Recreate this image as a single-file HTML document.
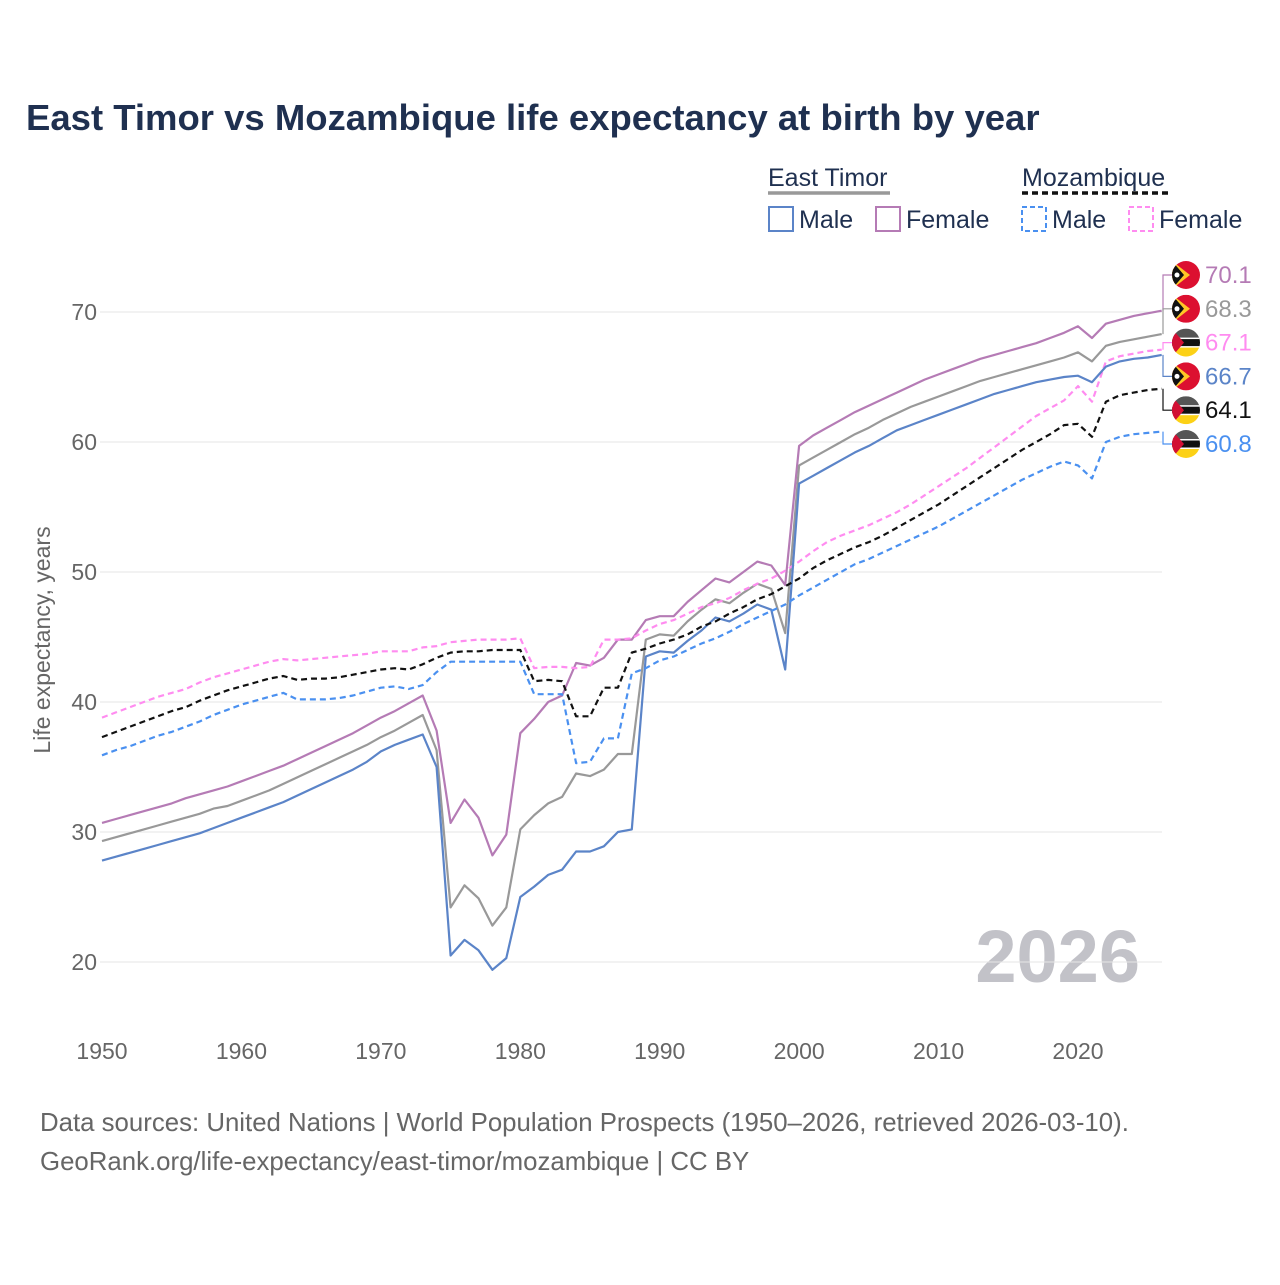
<!DOCTYPE html>
<html><head><meta charset="utf-8"><style>
body{margin:0;background:#fff;font-family:"Liberation Sans",sans-serif}
svg text{font-family:"Liberation Sans",sans-serif}
</style></head><body>
<svg id="c" width="1280" height="1280" viewBox="0 0 1280 1280">
<text x="26" y="130" font-size="36.5" font-weight="bold" fill="#1f3050">East Timor vs Mozambique life expectancy at birth by year</text>
<g>
<text x="768" y="186" font-size="25" fill="#1f3050">East Timor</text>
<line x1="768" y1="193" x2="890" y2="193" stroke="#999" stroke-width="3.5"/>
<text x="1022" y="186" font-size="25" fill="#1f3050">Mozambique</text>
<line x1="1022" y1="193" x2="1170" y2="193" stroke="#111" stroke-width="3.5" stroke-dasharray="6,4"/>
<rect x="769" y="207" width="24" height="24" fill="none" stroke="#5b84c8" stroke-width="2"/>
<text x="799" y="228" font-size="25" fill="#1f3050">Male</text>
<rect x="876" y="207" width="24" height="24" fill="none" stroke="#b57bb5" stroke-width="2"/>
<text x="906" y="228" font-size="25" fill="#1f3050">Female</text>
<rect x="1022" y="207" width="24" height="24" fill="none" stroke="#4a90f0" stroke-width="2" stroke-dasharray="5,3"/>
<text x="1052" y="228" font-size="25" fill="#1f3050">Male</text>
<rect x="1129" y="207" width="24" height="24" fill="none" stroke="#ff8cf0" stroke-width="2" stroke-dasharray="5,3"/>
<text x="1159" y="228" font-size="25" fill="#1f3050">Female</text>
</g>
<text x="1140" y="982" font-size="74" font-weight="bold" fill="#c2c2c8" text-anchor="end">2026</text>
<text transform="translate(50,640) rotate(-90)" font-size="23" fill="#666" text-anchor="middle">Life expectancy, years</text>
<g id="grid"></g><g id="lines"></g><g id="labels"></g>
<text x="40" y="1131" font-size="25.8" fill="#666">Data sources: United Nations | World Population Prospects (1950–2026, retrieved 2026-03-10).</text>
<text x="40" y="1170" font-size="25.8" fill="#666">GeoRank.org/life-expectancy/east-timor/mozambique | CC BY</text>
</svg>
<script>
const startYear = 1950;
const yTicks = [20,30,40,50,60,70];
const xTicks = [1950,1960,1970,1980,1990,2000,2010,2020];
const etMale = [27.8,28.1,28.4,28.7,29.0,29.3,29.6,29.9,30.3,30.7,31.1,31.5,31.9,32.3,32.8,33.3,33.8,34.3,34.8,35.4,36.2,36.7,37.1,37.5,35.0,20.5,21.7,20.9,19.4,20.3,25.0,25.8,26.7,27.1,28.5,28.5,28.9,30.0,30.2,43.5,43.9,43.8,44.7,45.5,46.5,46.2,46.8,47.5,47.1,42.5,56.8,57.4,58.0,58.6,59.2,59.7,60.3,60.9,61.3,61.7,62.1,62.5,62.9,63.3,63.7,64.0,64.3,64.6,64.8,65.0,65.1,64.6,65.8,66.2,66.4,66.5,66.7];
const etFemale = [30.7,31.0,31.3,31.6,31.9,32.2,32.6,32.9,33.2,33.5,33.9,34.3,34.7,35.1,35.6,36.1,36.6,37.1,37.6,38.2,38.8,39.3,39.9,40.5,37.8,30.7,32.5,31.1,28.2,29.8,37.6,38.7,40.0,40.5,43.0,42.8,43.4,44.8,44.8,46.3,46.6,46.6,47.7,48.6,49.5,49.2,50.0,50.8,50.5,49.0,59.7,60.5,61.1,61.7,62.3,62.8,63.3,63.8,64.3,64.8,65.2,65.6,66.0,66.4,66.7,67.0,67.3,67.6,68.0,68.4,68.9,68.0,69.1,69.4,69.7,69.9,70.1];
const etTotal = [29.3,29.6,29.9,30.2,30.5,30.8,31.1,31.4,31.8,32.0,32.4,32.8,33.2,33.7,34.2,34.7,35.2,35.7,36.2,36.7,37.3,37.8,38.4,39.0,36.3,24.2,25.9,24.9,22.8,24.2,30.2,31.3,32.2,32.7,34.5,34.3,34.8,36.0,36.0,44.8,45.2,45.1,46.2,47.1,47.9,47.6,48.4,49.1,48.7,45.3,58.2,58.8,59.4,60.0,60.6,61.1,61.7,62.2,62.7,63.1,63.5,63.9,64.3,64.7,65.0,65.3,65.6,65.9,66.2,66.5,66.9,66.2,67.4,67.7,67.9,68.1,68.3];
const mzMale = [35.9,36.3,36.6,37.0,37.4,37.7,38.1,38.5,39.0,39.4,39.8,40.1,40.4,40.7,40.2,40.2,40.2,40.3,40.5,40.8,41.1,41.2,41.0,41.3,42.3,43.1,43.1,43.1,43.1,43.1,43.1,40.6,40.6,40.6,35.3,35.4,37.2,37.2,42.2,42.6,43.2,43.5,44.0,44.5,44.9,45.4,46.0,46.5,47.0,47.5,48.2,48.8,49.4,50.0,50.6,51.0,51.5,52.0,52.5,53.0,53.5,54.1,54.7,55.3,55.9,56.5,57.1,57.6,58.1,58.5,58.2,57.2,60.0,60.4,60.6,60.7,60.8];
const mzTotal = [37.3,37.7,38.1,38.5,38.9,39.3,39.6,40.1,40.5,40.9,41.2,41.5,41.8,42.0,41.7,41.8,41.8,41.9,42.1,42.3,42.5,42.6,42.5,42.9,43.4,43.8,43.9,43.9,44.0,44.0,44.0,41.6,41.7,41.6,38.9,38.9,41.1,41.1,43.8,44.1,44.5,44.8,45.2,45.8,46.2,46.8,47.3,47.9,48.3,48.9,49.5,50.3,50.9,51.4,51.9,52.3,52.8,53.4,54.0,54.6,55.2,55.9,56.6,57.3,58.0,58.7,59.4,60.0,60.6,61.3,61.4,60.4,63.1,63.6,63.8,64.0,64.1];
const mzFemale = [38.8,39.2,39.6,40.0,40.4,40.7,41.0,41.5,41.9,42.2,42.5,42.8,43.1,43.3,43.2,43.3,43.4,43.5,43.6,43.7,43.9,43.9,43.9,44.2,44.3,44.6,44.7,44.8,44.8,44.8,44.9,42.6,42.7,42.7,42.6,42.7,44.8,44.8,44.9,45.5,46.0,46.3,46.8,47.3,47.6,48.0,48.6,49.1,49.5,50.1,50.8,51.6,52.3,52.8,53.2,53.6,54.1,54.6,55.2,55.9,56.6,57.3,58.0,58.8,59.6,60.4,61.2,62.0,62.6,63.2,64.3,63.1,66.2,66.6,66.8,67.0,67.1];

const NS='http://www.w3.org/2000/svg';
const X0=102, XS=13.943, Y0=962, YS=13;
const xs = yr => X0 + (yr-1950)*XS;
const ys = v => Y0 - (v-20)*YS;
function mk(tag, attrs, parent){const e=document.createElementNS(NS,tag);for(const k in attrs)e.setAttribute(k,attrs[k]);parent.appendChild(e);return e;}
const grid=document.getElementById('grid'), lines=document.getElementById('lines'), labels=document.getElementById('labels');
yTicks.forEach(t=>{
  const l=mk('line',{x1:100,x2:1162,y1:ys(t),y2:ys(t),stroke:'#e6e6e6','stroke-width':1},grid);
  
  
  const tx=mk('text',{x:97,y:ys(t)+8,'font-size':23,fill:'#666','text-anchor':'end'},grid);
  tx.textContent=t;
  
  
});
xTicks.forEach(t=>{
  const tx=mk('text',{x:xs(t),y:1059,'font-size':23,fill:'#666','text-anchor':'middle'},grid);
  tx.textContent=t;
  
  
});
const series=[
 {d:etFemale,c:'#b57bb5',dash:'',n:'east-timor-female',lc:'#b57bb5',flag:'et'},
 {d:etTotal,c:'#999999',dash:'',n:'east-timor-total',lc:'#999',flag:'et'},
 {d:mzFemale,c:'#ff8cf0',dash:'6,4',n:'mozambique-female',lc:'#ff8cf0',flag:'mz'},
 {d:etMale,c:'#5b84c8',dash:'',n:'east-timor-male',lc:'#5b84c8',flag:'et'},
 {d:mzTotal,c:'#111111',dash:'6,4',n:'mozambique-total',lc:'#111',flag:'mz'},
 {d:mzMale,c:'#4a90f0',dash:'6,4',n:'mozambique-male',lc:'#4a90f0',flag:'mz'}
];
series.forEach(s=>{
  const pts=s.d.map((v,i)=>xs(startYear+i).toFixed(1)+','+ys(v).toFixed(1)).join(' ');
  const p=mk('polyline',{points:pts,fill:'none',stroke:s.c,'stroke-width':2.2,'stroke-dasharray':s.dash,'stroke-linejoin':'round'},lines);
  
  
});
const order=series.slice().sort((a,b)=>b.d[b.d.length-1]-a.d[a.d.length-1]);
order.forEach((s,k)=>{
  const last=s.d[s.d.length-1];
  const ly=275+k*33.8, ey=ys(last);
  const c=mk('polyline',{points:`1163,${ey} 1163,${ly} 1172,${ly}`,fill:'none',stroke:s.c,'stroke-width':1.2},labels);
  
  
  const g=mk('g',{transform:`translate(1186,${ly})`},labels);
  
  
  mk('clipPath',{id:'cp'+k},g).appendChild(document.createElementNS(NS,'circle')).setAttribute('r',14);
  const inner=mk('g',{'clip-path':`url(#cp${k})`},g);
  if(s.flag==='et'){
    mk('rect',{x:-14,y:-14,width:28,height:28,fill:'#dc1030'},inner);
    mk('polygon',{points:'-14,-14 4,0 -14,14',fill:'#ffc726'},inner);
    mk('polygon',{points:'-14,-14 -2,0 -14,14',fill:'#111'},inner);
    mk('circle',{cx:-9,cy:0,r:2.5,fill:'#fff'},inner);
  } else {
    mk('rect',{x:-14,y:-14,width:28,height:10,fill:'#555'},inner);
    mk('rect',{x:-14,y:-4,width:28,height:8,fill:'#111'},inner);
    mk('rect',{x:-14,y:-5,width:28,height:1.5,fill:'#fff'},inner);
    mk('rect',{x:-14,y:3.5,width:28,height:1.5,fill:'#fff'},inner);
    mk('rect',{x:-14,y:5,width:28,height:9,fill:'#fcd116'},inner);
    mk('polygon',{points:'-14,-14 -2,0 -14,14',fill:'#d21034'},inner);
  }
  const t=mk('text',{x:1205,y:ly+8,'font-size':24,fill:s.lc},labels);
  t.textContent=last.toFixed(1);
  
  
});
</script>
</body></html>
